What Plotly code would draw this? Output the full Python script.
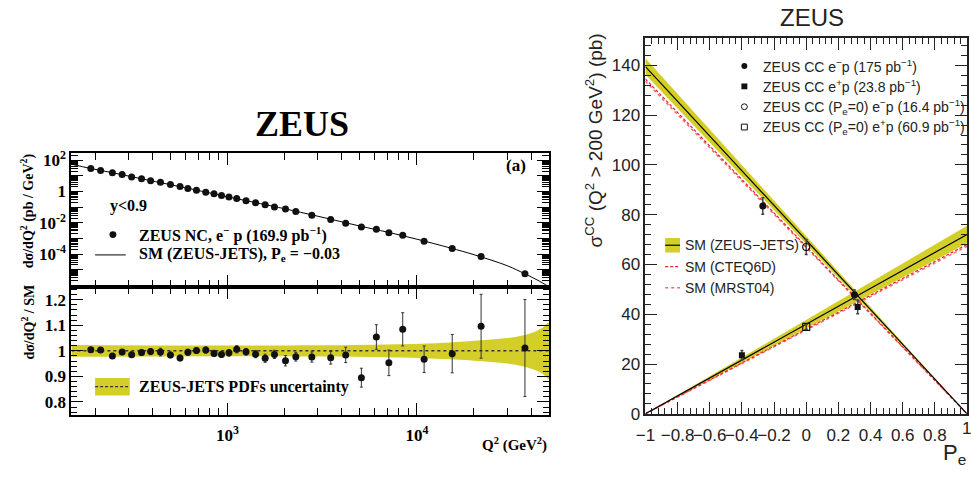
import math
import plotly.graph_objects as go

W, H = 971, 479
def px(x): return x / W
def py(y): return 1 - y / H

# ---------------- Left panel data (ZEUS NC e-p) ----------------
nc_q2 = [190, 214, 247, 278, 312, 352, 393, 443, 500, 562, 618, 686, 768, 849, 930,
         1018, 1119, 1253, 1407, 1581, 1770, 2024, 2294, 2788, 3506, 4207, 5090,
         6107, 7110, 8413, 10910, 15350, 21800, 37150]
nc_xsec = [29.6, 22.3, 15.8, 12.4, 8.4, 6.6, 4.95, 3.9, 2.77, 2.07, 1.55, 1.21, 0.91,
           0.71, 0.56, 0.44, 0.36, 0.26, 0.19, 0.144, 0.103, 0.077, 0.052, 0.030,
           0.0162, 0.0095, 0.0053, 0.0038, 0.0023, 0.00158, 6.6e-4, 2.3e-4, 7.1e-5, 5.5e-6]
nc_ratio = [1.004, 1.003, 0.980, 0.995, 0.985, 0.993, 0.997, 0.995, 0.984, 0.972,
            0.994, 1.001, 1.003, 0.990, 0.986, 0.992, 1.006, 0.996, 0.987, 0.971,
            0.986, 0.961, 0.977, 0.976, 0.973, 0.984, 0.895, 1.054, 0.953, 1.084,
            0.967, 0.989, 1.096, 1.011]
nc_ratio_err = [0.008, 0.008, 0.010, 0.010, 0.010, 0.011, 0.012, 0.015, 0.011, 0.011,
                0.012, 0.011, 0.012, 0.012, 0.012, 0.013, 0.014, 0.013, 0.014, 0.016,
                0.016, 0.020, 0.017, 0.020, 0.025, 0.030, 0.037, 0.048, 0.050, 0.065,
                0.052, 0.075, 0.125, 0.190]
sm_q2 = [150, 190, 250, 350, 500, 700, 1000, 1500, 2000, 3000, 5000, 7000, 10000,
         15000, 20000, 30000, 37150, 43000, 50000]
sm_xsec = [56, 29.5, 15.5, 6.6, 2.75, 1.17, 0.457, 0.166, 0.0794, 0.0263, 0.00617,
           0.00251, 8.9e-4, 2.45e-4, 9.1e-5, 1.78e-5, 5.4e-6, 2.24e-6, 7.9e-7]
band_q2 = [150, 1000, 3000, 7000, 15000, 23000, 30000, 36000, 42000, 46000, 50000]
band_halfwidth = [0.023, 0.021, 0.022, 0.025, 0.033, 0.042, 0.050, 0.060, 0.075, 0.090, 0.110]

# ---------------- Right panel data (ZEUS CC vs Pe) ----------------
pe_ends = [-1, 1]
em_sm = [139.5, 0]
em_lo = [136.3, 0]
em_hi = [142.8, 0]
ep_sm = [0, 72.0]
ep_lo = [0, 68.5]
ep_hi = [0, 75.5]
em_cteq = [134.5, 0]
ep_cteq = [0, 68.0]
em_mrst = [133.6, 0]
ep_mrst = [0, 67.3]

cc_em_pe = [-0.27, 0.30]
cc_em = [83.5, 47.8]
cc_em_err = [3.3, 1.9]
cc_ep_pe = [-0.40, 0.32]
cc_ep = [23.5, 42.9]
cc_ep_err = [1.9, 2.7]
cc_em0_pe = [0.0]
cc_em0 = [67.0]
cc_em0_err = [3.0]
cc_ep0_pe = [0.0]
cc_ep0 = [34.9]
cc_ep0_err = [1.0]

pe_ticks = [-1, -0.8, -0.6, -0.4, -0.2, 0, 0.2, 0.4, 0.6, 0.8, 1]
pe_ticktext = ["\u22121", "\u22120.8", "\u22120.6", "\u22120.4", "\u22120.2", "0",
               "0.2", "0.4", "0.6", "0.8", "1"]
sig_ticks = [0, 20, 40, 60, 80, 100, 120, 140]

yel = "rgb(212,207,40)"
dark = "#111111"
serif = "Liberation Serif"
sans = "Liberation Sans"

fig = go.Figure()

# upper-left: cross section
fig.add_trace(go.Scatter(x=sm_q2, y=sm_xsec, mode="lines", line=dict(color="black", width=1, shape="spline"),
                         xaxis="x", yaxis="y", showlegend=False))
fig.add_trace(go.Scatter(x=nc_q2, y=nc_xsec, mode="markers", marker=dict(color=dark, size=7),
                         xaxis="x", yaxis="y", showlegend=False))

# lower-left: ratio
band_x = band_q2 + band_q2[::-1]
band_y = [1 + h for h in band_halfwidth] + [1 - h for h in band_halfwidth[::-1]]
fig.add_trace(go.Scatter(x=band_x, y=band_y, fill="toself", fillcolor=yel, mode="lines",
                         line=dict(width=0, color=yel, shape="spline"), xaxis="x2", yaxis="y2", showlegend=False))
fig.add_trace(go.Scatter(x=[band_q2[0], band_q2[-1]], y=[1, 1], mode="lines",
                         line=dict(color="#333", width=1.5, dash="3px,3px"), xaxis="x2", yaxis="y2", showlegend=False))
fig.add_trace(go.Scatter(x=nc_q2, y=nc_ratio, mode="markers", marker=dict(color=dark, size=7),
                         error_y=dict(type="data", array=nc_ratio_err, thickness=1, width=1.5, color="#333"),
                         xaxis="x2", yaxis="y2", showlegend=False))

# right panel bands
fig.add_trace(go.Scatter(x=pe_ends + pe_ends[::-1], y=em_hi + em_lo[::-1], fill="toself", fillcolor=yel,
                         mode="lines", line=dict(width=0, color=yel), xaxis="x3", yaxis="y3", showlegend=False))
fig.add_trace(go.Scatter(x=pe_ends + pe_ends[::-1], y=ep_hi + ep_lo[::-1], fill="toself", fillcolor=yel,
                         mode="lines", line=dict(width=0, color=yel), xaxis="x3", yaxis="y3", showlegend=False))
for ys in (em_mrst, ep_mrst):
    fig.add_trace(go.Scatter(x=pe_ends, y=ys, mode="lines", line=dict(color="#f26a6a", width=1.5, dash="dot"),
                             xaxis="x3", yaxis="y3", showlegend=False))
for ys in (em_cteq, ep_cteq):
    fig.add_trace(go.Scatter(x=pe_ends, y=ys, mode="lines", line=dict(color="#e8242a", width=1.2, dash="3px,2px"),
                             xaxis="x3", yaxis="y3", showlegend=False))
for ys in (em_sm, ep_sm):
    fig.add_trace(go.Scatter(x=pe_ends, y=ys, mode="lines", line=dict(color="black", width=1.2),
                             xaxis="x3", yaxis="y3", showlegend=False))

errstyle = dict(type="data", thickness=1.5, width=1.5, color="#444")
fig.add_trace(go.Scatter(x=cc_em_pe, y=cc_em, mode="markers", marker=dict(symbol="circle", size=7, color=dark),
                         error_y=dict(array=cc_em_err, **errstyle), xaxis="x3", yaxis="y3", showlegend=False))
fig.add_trace(go.Scatter(x=cc_ep_pe, y=cc_ep, mode="markers", marker=dict(symbol="square", size=6, color=dark),
                         error_y=dict(array=cc_ep_err, **errstyle), xaxis="x3", yaxis="y3", showlegend=False))
fig.add_trace(go.Scatter(x=cc_em0_pe, y=cc_em0, mode="markers",
                         marker=dict(symbol="circle-open", size=7, color=dark, line=dict(width=1.2)),
                         error_y=dict(array=cc_em0_err, **errstyle), xaxis="x3", yaxis="y3", showlegend=False))
fig.add_trace(go.Scatter(x=cc_ep0_pe, y=cc_ep0, mode="markers",
                         marker=dict(symbol="square-open", size=7, color=dark, line=dict(width=1.2)),
                         error_y=dict(array=cc_ep0_err, **errstyle), xaxis="x3", yaxis="y3", showlegend=False))

# ---------------- axes ----------------
xmin_l, xmax_l = 150, 50000
minor_logx = [m * 10 ** e for e in (2, 3, 4) for m in range(2, 10) if xmin_l <= m * 10 ** e <= xmax_l]
minor_logy = [m * 10.0 ** e for e in range(-7, 3) for m in range(2, 10)]
major_logy = [10.0 ** e for e in range(-6, 3)]
logy_text = {2: "10<sup>2</sup>", 0: "1", -2: "10<sup>-2</sup>", -4: "10<sup>-4</sup>"}
major_logy_text = [logy_text.get(e, "") for e in range(-6, 3)]

frame_l = dict(showline=True, linecolor="black", linewidth=2, mirror="allticks", ticks="inside",
               tickcolor="black", showgrid=False, zeroline=False)
serif_tick = dict(family=serif, size=17, color="black", weight="bold")

fig.update_layout(
    width=W, height=H, autosize=False, margin=dict(l=0, r=0, t=0, b=0),
    paper_bgcolor="white", plot_bgcolor="white", showlegend=False,
    xaxis=dict(type="log", range=[math.log10(xmin_l), math.log10(xmax_l)], domain=[px(62), px(545)],
               anchor="y", tickvals=[1000, 10000], showticklabels=False, ticklen=12, tickwidth=1.2,
               minor=dict(ticks="inside", tickvals=minor_logx, ticklen=7, tickwidth=1, tickcolor="black"),
               **frame_l),
    yaxis=dict(type="log", range=[-6.1, 2.45], domain=[py(291), py(153)], anchor="x",
               tickvals=major_logy, ticktext=major_logy_text, ticklen=12, tickwidth=1.2, tickfont=serif_tick,
               minor=dict(ticks="inside", tickvals=minor_logy, ticklen=7, tickwidth=1, tickcolor="black"),
               **frame_l),
    xaxis2=dict(type="log", range=[math.log10(xmin_l), math.log10(xmax_l)], domain=[px(62), px(545)],
                anchor="y2", tickvals=[1000, 10000], ticktext=["10<sup>3</sup>", "10<sup>4</sup>"],
                tickfont=serif_tick, ticklen=12, tickwidth=1.2, tickangle=0, ticklabelstandoff=4,
                minor=dict(ticks="inside", tickvals=minor_logx, ticklen=7, tickwidth=1, tickcolor="black"),
                **frame_l),
    yaxis2=dict(range=[0.75, 1.25], domain=[py(423), py(291)], anchor="x2",
                tickvals=[0.8, 0.9, 1.0, 1.1, 1.2], ticktext=["0.8", "0.9", "1", "1.1", "1.2"],
                tickfont=serif_tick, ticklen=12, tickwidth=1.2,
                minor=dict(ticks="inside", dtick=0.02, ticklen=6, tickwidth=1, tickcolor="black"),
                **frame_l),
    xaxis3=dict(range=[-1, 1], domain=[px(642), px(967)], anchor="y3",
                tickvals=pe_ticks, ticktext=pe_ticktext[:-1] + [""],
                tickfont=dict(family=sans, size=17, color="#222"), tickangle=0, ticklabelstandoff=5,
                showline=True, linecolor="#222", linewidth=1.5, mirror="allticks", ticks="inside",
                ticklen=12, tickwidth=1.2, tickcolor="#222", showgrid=False, zeroline=False,
                minor=dict(ticks="inside", dtick=0.04, tick0=-1, ticklen=6, tickwidth=1, tickcolor="#222")),
    yaxis3=dict(range=[0, 151], domain=[py(422), py(34)], anchor="x3",
                tickvals=sig_ticks,
                tickfont=dict(family=sans, size=17, color="#222"),
                showline=True, linecolor="#222", linewidth=1.5, mirror="allticks", ticks="inside",
                ticklen=12, tickwidth=1.2, tickcolor="#222", showgrid=False, zeroline=False,
                minor=dict(ticks="inside", dtick=4, ticklen=6, tickwidth=1, tickcolor="#222")),
)

ann = []
shapes = []
def text(x, y, s, size, family, xanchor="left", yanchor="middle", angle=0, color="black"):
    ann.append(dict(x=px(x), y=py(y), xref="paper", yref="paper", text=s, showarrow=False,
                    xanchor=xanchor, yanchor=yanchor, textangle=angle,
                    font=dict(family=family, size=size, color=color)))

# left panel texts
text(295, 123, "<b>ZEUS</b>", 36, serif, xanchor="center")
text(523, 166, "<b>(a)</b>", 17, serif, xanchor="right")
text(99, 208, "<b>y<0.9</b>", 16, serif)
text(128, 237, "<b>ZEUS NC, e<sup>\u2212</sup> p (169.9 pb<sup>\u22121</sup>)</b>", 16, serif)
text(128, 258, "<b>SM (ZEUS-JETS), P<sub>e</sub> = \u22120.03</b>", 16, serif)
text(128, 394, "<b>ZEUS-JETS PDFs uncertainty</b>", 16, serif)
text(18, 212, "<b>d\u03c3/dQ<sup>2</sup> (pb / GeV<sup>2</sup>)</b>", 14, serif, xanchor="center", angle=-90)
text(18, 327, "<b>d\u03c3/dQ<sup>2</sup> / SM</b>", 14, serif, xanchor="center", angle=-90)
text(545, 454, "<b>Q<sup>2</sup> (GeV<sup>2</sup>)</b>", 15, serif, xanchor="right")

shapes.append(dict(type="circle", xref="paper", yref="paper", x0=px(100.5), x1=px(107.5), y0=py(240.5), y1=py(233.5),
                   fillcolor=dark, line=dict(width=0)))
shapes.append(dict(type="line", xref="paper", yref="paper", x0=px(86), x1=px(117), y0=py(258), y1=py(258),
                   line=dict(color="black", width=1)))
shapes.append(dict(type="rect", xref="paper", yref="paper", x0=px(86), x1=px(121), y0=py(403), y1=py(385),
                   fillcolor=yel, line=dict(width=0)))
shapes.append(dict(type="line", xref="paper", yref="paper", x0=px(86), x1=px(121), y0=py(394), y1=py(394),
                   line=dict(color="#333", width=1.2, dash="3px,2px")))

# right panel texts
text(810, 13, "ZEUS", 24, sans, xanchor="center", color="#222")
text(590, 140, "\u03c3<sup>CC</sup> (Q<sup>2</sup> > 200 GeV<sup>2</sup>) (pb)", 19, sans,
     xanchor="center", angle=-90, color="#222")
text(968, 463, "P<sub>e</sub>", 22, sans, xanchor="right", color="#222")
text(966, 437, pe_ticktext[-1], 17, sans, xanchor="center", color="#222")

leg_rows = [63, 84, 105, 126]
leg_txt = ["ZEUS CC e<sup>\u2212</sup>p (175 pb<sup>\u22121</sup>)",
           "ZEUS CC e<sup>+</sup>p (23.8 pb<sup>\u22121</sup>)",
           "ZEUS CC (P<sub>e</sub>=0) e<sup>\u2212</sup>p (16.4 pb<sup>\u22121</sup>)",
           "ZEUS CC (P<sub>e</sub>=0) e<sup>+</sup>p (60.9 pb<sup>\u22121</sup>)"]
for yy, t in zip(leg_rows, leg_txt):
    text(759, yy, t, 14, sans, color="#222")
mx = 742
shapes.append(dict(type="circle", xref="paper", yref="paper", x0=px(mx - 3), x1=px(mx + 3),
                   y0=py(leg_rows[0] + 3), y1=py(leg_rows[0] - 3), fillcolor=dark, line=dict(width=0)))
shapes.append(dict(type="rect", xref="paper", yref="paper", x0=px(mx - 3), x1=px(mx + 3),
                   y0=py(leg_rows[1] + 3), y1=py(leg_rows[1] - 3), fillcolor=dark, line=dict(width=0)))
shapes.append(dict(type="circle", xref="paper", yref="paper", x0=px(mx - 3), x1=px(mx + 3),
                   y0=py(leg_rows[2] + 3), y1=py(leg_rows[2] - 3), fillcolor="white", line=dict(width=1, color=dark)))
shapes.append(dict(type="rect", xref="paper", yref="paper", x0=px(mx - 3), x1=px(mx + 3),
                   y0=py(leg_rows[3] + 3), y1=py(leg_rows[3] - 3), fillcolor="white", line=dict(width=1, color=dark)))

leg2_rows = [248, 270, 292]
text(680, leg2_rows[0], "SM (ZEUS\u2212JETS)", 14, sans, color="#222")
text(680, leg2_rows[1], "SM (CTEQ6D)", 14, sans, color="#222")
text(680, leg2_rows[2], "SM (MRST04)", 14, sans, color="#222")
shapes.append(dict(type="rect", xref="paper", yref="paper", x0=px(662), x1=px(677),
                   y0=py(leg2_rows[0] + 7.5), y1=py(leg2_rows[0] - 7.5), fillcolor=yel, line=dict(width=0)))
shapes.append(dict(type="line", xref="paper", yref="paper", x0=px(662), x1=px(677),
                   y0=py(leg2_rows[0]), y1=py(leg2_rows[0]), line=dict(color="black", width=1.2)))
shapes.append(dict(type="line", xref="paper", yref="paper", x0=px(662), x1=px(677),
                   y0=py(leg2_rows[1]), y1=py(leg2_rows[1]), line=dict(color="#e8242a", width=1.2, dash="3px,2px")))
shapes.append(dict(type="line", xref="paper", yref="paper", x0=px(662), x1=px(677),
                   y0=py(leg2_rows[2]), y1=py(leg2_rows[2]), line=dict(color="#f26a6a", width=1.5, dash="dot")))

fig.update_layout(annotations=ann, shapes=shapes)

fig.write_html("out.html", config={"displayModeBar": False},
               post_script="document.body.style.margin='0';document.body.style.padding='0';document.body.style.overflow='hidden';")
